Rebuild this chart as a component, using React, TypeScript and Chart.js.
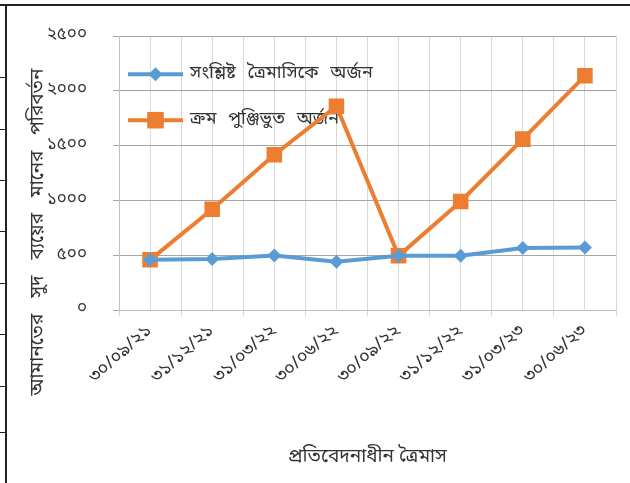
import React, { useEffect, useRef } from 'react';
import { Chart, registerables } from 'chart.js';

Chart.register(...registerables);

const categories = ['৩০/০৯/২১', '৩১/১২/২১', '৩১/০৩/২২', '৩০/০৬/২২', '৩০/০৯/২২', '৩১/১২/২২', '৩১/০৩/২৩', '৩০/০৬/২৩'];
const quarterlyEarnings = [458, 466, 497, 440, 495, 496, 567, 570];
const cumulativeEarnings = [458, 920, 1418, 1860, 495, 991, 1560, 2138];
const yTickLabels = ['০', '৫০০', '১০০০', '১৫০০', '২০০০', '২৫০০'];
const seriesNames = ['সংশ্লিষ্ট ত্রৈমাসিকে অর্জন', 'ক্রম পুঞ্জিভুত অর্জন'];
const xTitle = 'প্রতিবেদনাধীন ত্রৈমাস';
const yTitle = 'আমানতের সুদ ব্যয়ের মানের পরিবর্তন';

const FONT = '"Noto Sans Bengali", "Lohit Bengali", "Noto Serif Bengali", "FreeSans", "Noto Sans", sans-serif';
const TEXT = '#333333';
const BLUE = '#5B9BD5';
const ORANGE = '#ED7D31';

const legendPlugin = {
  id: 'inlineLegend',
  beforeDatasetsDraw(chart: any) {
    const { ctx, chartArea } = chart;
    const rowsY = [chartArea.top + 38, chartArea.top + 84];
    const x0 = chartArea.left + 9;
    const x1 = chartArea.left + 64;
    const mx = (x0 + x1) / 2;
    chart.data.datasets.forEach((ds: any, i: number) => {
      const y = rowsY[i];
      ctx.save();
      ctx.strokeStyle = ds.borderColor;
      ctx.lineWidth = 4;
      ctx.beginPath();
      ctx.moveTo(x0, y);
      ctx.lineTo(x1, y);
      ctx.stroke();
      ctx.fillStyle = ds.backgroundColor;
      ctx.beginPath();
      if (ds.pointStyle === 'rectRot') {
        const r = ds.pointRadius;
        ctx.moveTo(mx, y - r);
        ctx.lineTo(mx + r, y);
        ctx.lineTo(mx, y + r);
        ctx.lineTo(mx - r, y);
        ctx.closePath();
      } else {
        const s = ds.pointRadius * Math.SQRT1_2 + 0.5;
        ctx.rect(mx - s, y - s, 2 * s, 2 * s);
      }
      ctx.fill();
      ctx.fillStyle = TEXT;
      ctx.font = `18px ${FONT}`;
      (ctx as any).wordSpacing = '7px';
      ctx.textAlign = 'left';
      ctx.textBaseline = 'middle';
      ctx.fillText(ds.label, x1 + 7, y);
      ctx.restore();
    });
  },
};

const yTitlePlugin = {
  id: 'yTitleText',
  afterDraw(chart: any) {
    const { ctx } = chart;
    ctx.save();
    ctx.translate(39, 232);
    ctx.rotate(-Math.PI / 2);
    ctx.fillStyle = TEXT;
    ctx.font = `19px ${FONT}`;
    (ctx as any).wordSpacing = '11px';
    ctx.textAlign = 'center';
    ctx.textBaseline = 'middle';
    ctx.fillText(yTitle, 0, 0);
    ctx.restore();
  },
};

export default function App() {
  const ref = useRef<HTMLCanvasElement | null>(null);

  useEffect(() => {
    if (!ref.current) return;
    const chart = new Chart(ref.current, {
      type: 'line',
      data: {
        labels: categories,
        datasets: [
          {
            label: seriesNames[0],
            data: quarterlyEarnings,
            borderColor: BLUE,
            backgroundColor: BLUE,
            borderWidth: 4,
            pointStyle: 'rectRot',
            pointRadius: 7,
            pointBorderWidth: 0,
            tension: 0,
          },
          {
            label: seriesNames[1],
            data: cumulativeEarnings,
            borderColor: ORANGE,
            backgroundColor: ORANGE,
            borderWidth: 4,
            pointStyle: 'rect',
            pointRadius: 11,
            pointBorderWidth: 0,
            tension: 0,
          },
        ],
      },
      options: {
        animation: false,
        responsive: false,
        layout: { padding: { left: 0, right: 14, top: 35, bottom: 9 } },
        plugins: {
          legend: { display: false },
          tooltip: { enabled: false },
        },
        scales: {
          x: {
            type: 'category',
            offset: true,
            grid: { offset: true, color: '#d9d9d9', lineWidth: 1, tickLength: 6, drawTicks: true },
            border: { color: '#bfbfbf' },
            ticks: { minRotation: 42, maxRotation: 42, color: TEXT, font: { family: FONT, size: 18 }, padding: 5 },
            title: { display: true, text: xTitle, color: TEXT, font: { family: FONT, size: 19 } },
            afterFit(scale: any) {
              scale.height = 164;
            },
          },
          x2: {
            type: 'category',
            labels: categories,
            position: 'bottom',
            offset: true,
            grid: { offset: false, color: '#d9d9d9', lineWidth: 1, drawTicks: false },
            border: { display: false },
            ticks: { display: false },
            afterFit(scale: any) {
              scale.height = 0;
            },
          },
          y: {
            min: 0,
            max: 2500,
            ticks: {
              stepSize: 500,
              color: TEXT,
              font: { family: FONT, size: 17 },
              padding: 26,
              callback: (_v: any, i: number) => yTickLabels[i],
            },
            grid: { color: '#a6a6a6', lineWidth: 1, tickLength: 6 },
            border: { color: '#bfbfbf' },
            afterFit(scale: any) {
              scale.width = 119;
            },
          },
        },
      },
      plugins: [legendPlugin, yTitlePlugin],
    } as any);
    return () => chart.destroy();
  }, []);

  const sideTicks = [77, 129, 180, 231, 283, 334, 386, 432];

  return (
    <div style={{ position: 'absolute', left: 0, top: 0, width: 630, height: 483, background: '#fff', overflow: 'hidden' }}>
      <canvas ref={ref} width={630} height={483} style={{ position: 'absolute', left: 0, top: 0 }} />
      <div style={{ position: 'absolute', left: 0, top: 4, width: 630, height: 2, background: '#222' }} />
      <div style={{ position: 'absolute', left: 5, top: 4, width: 2, height: 479, background: '#222' }} />
      {sideTicks.map((y) => (
        <div key={y} style={{ position: 'absolute', left: 0, top: y, width: 6, height: 1, background: '#222' }} />
      ))}
    </div>
  );
}
